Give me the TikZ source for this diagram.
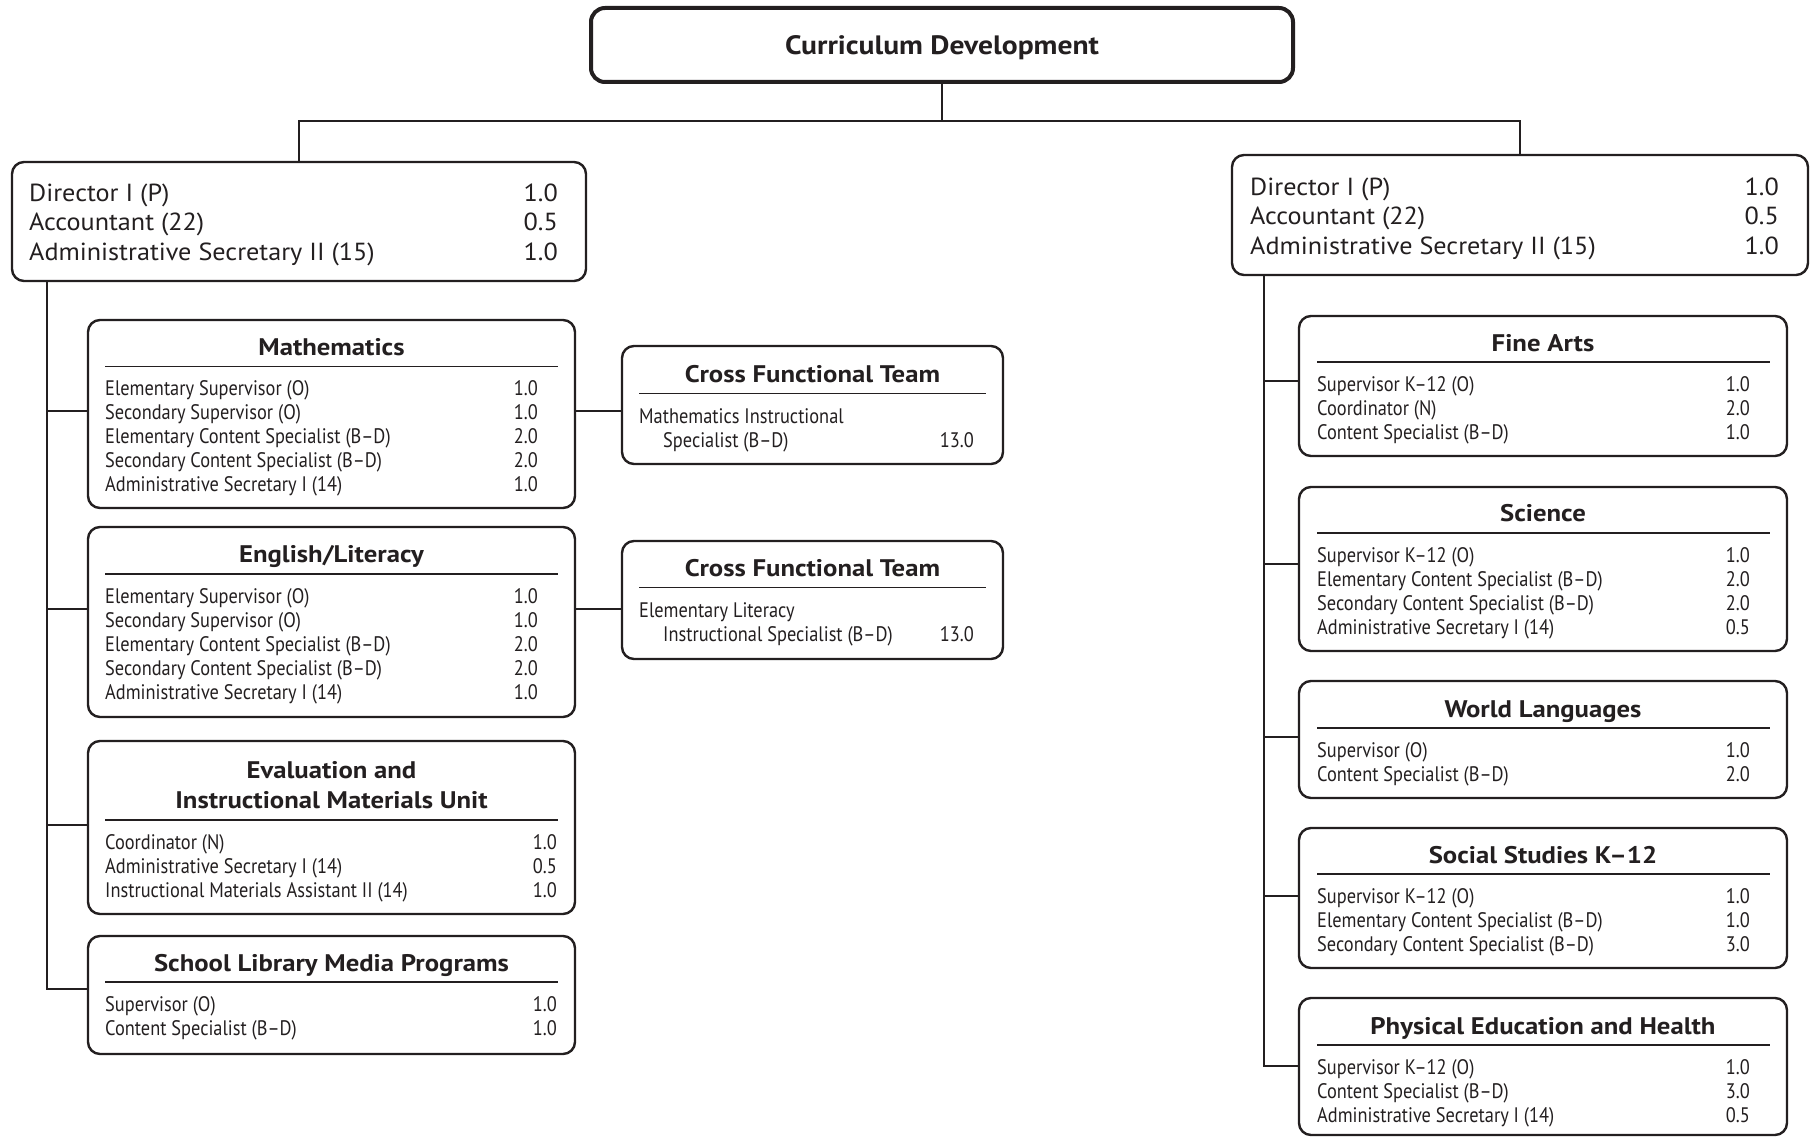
\documentclass[tikz,border=0pt]{standalone}
\usepackage{fontspec}
\setmainfont{PT Sans}
\newfontfamily\ptbase{PT Sans}
\newlength\mylen
% body text: condensed to match the reference widths
\settowidth\mylen{\ptbase\fontsize{21}{24}\selectfont Elementary Content Specialist (B–D)Mathematics InstructionalAdministrative Secretary I (14)}
\pgfmathsetmacro\bodyx{727/\mylen}
\edef\tmpdef{\noexpand\newfontfamily\noexpand\bodyfont[FakeStretch=\bodyx]{PT Sans}}\tmpdef
% director text
\settowidth\mylen{\ptbase\fontsize{24.7}{29}\selectfont Administrative Secretary II (15)Accountant (22)Director I (P)}
\pgfmathsetmacro\dirx{661/\mylen}
\edef\tmpdef{\noexpand\newfontfamily\noexpand\dirfont[FakeStretch=\dirx]{PT Sans}}\tmpdef
% headings
\settowidth\mylen{\ptbase\bfseries\fontsize{24}{28}\selectfont Cross Functional TeamPhysical Education and HealthSchool Library Media Programs}
\pgfmathsetmacro\headx{955/\mylen}
\edef\tmpdef{\noexpand\newfontfamily\noexpand\headfont[FakeStretch=\headx]{PT Sans}}\tmpdef
\settowidth\mylen{\headfont\bfseries\fontsize{24}{28}\selectfont Curriculum Development}
\pgfmathsetmacro\titlesize{24*314/\mylen}

\definecolor{ink}{RGB}{35,31,32}

\tikzset{
  ubox/.style={draw=ink, line width=2.4pt, rounded corners=12pt, fill=white, inner sep=0pt, outer sep=0pt, anchor=north west},
  topbox/.style={ubox, line width=4pt, rounded corners=14pt},
  conn/.style={draw=ink, line width=2.4pt},
  rulel/.style={draw=ink, line width=1.3pt},
  bodytxt/.style={font=\bodyfont\fontsize{21}{24}\selectfont, text=ink, inner sep=0pt, text height=14.7pt, text depth=0pt},
  dirtxt/.style={font=\dirfont\fontsize{24.7}{29}\selectfont, text=ink, inner sep=0pt, text height=17.3pt, text depth=0pt},
  headtxt/.style={font=\headfont\bfseries\fontsize{24}{28}\selectfont, text=ink, inner sep=0pt, text height=16.8pt, text depth=0pt},
  titletxt/.style={font=\headfont\bfseries\fontsize{\titlesize}{\titlesize}\selectfont, text=ink, text height=0.7*\titlesize pt, text depth=0pt},
}

% #1 name, #2 left x, #3 numbers right x, #4 first y, #5 list text/number
\newcommand\unitrows[5]{%
  \foreach \txt/\val [count=\i] in {#5} {
    \node[bodytxt, anchor=west] (#1-t\i) at (#2,{#4+24*(\i-1)}) {\txt};
    \node[bodytxt, anchor=east] (#1-n\i) at (#3,{#4+24*(\i-1)}) {\val};
  }}
\newcommand\dirrows[4]{%
  \foreach \txt/\val [count=\i] in {{Director I (P)}/1.0,{Accountant (22)}/0.5,{Administrative Secretary II (15)}/1.0} {
    \node[dirtxt, anchor=west] (#1-t\i) at (#2,{#4+29.3*(\i-1)}) {\txt};
    \node[dirtxt, anchor=east] (#1-n\i) at (#3,{#4+29.3*(\i-1)}) {\val};
  }}

\begin{document}
\begin{tikzpicture}[x=1pt, y=-1pt]
\useasboundingbox (0,0) rectangle (1810,1137);

% ---------- top ----------
\node[topbox, titletxt, minimum width=702pt, minimum height=74pt] (top) at (591,8) {Curriculum Development};

% ---------- directors ----------
\node[ubox, minimum width=574pt, minimum height=119pt] (dirL) at (12,162) {};
\dirrows{dirL}{29}{558}{193}
\node[ubox, minimum width=576pt, minimum height=120pt] (dirR) at (1232,155) {};
\dirrows{dirR}{1250}{1779}{187}

\coordinate (jT) at (top.south |- 0,121);
\draw[conn] (top.south) -- (jT);
\draw[conn] (dirL.north) |- (jT) -| (dirR.north);

% ---------- left column ----------
\node[ubox, minimum width=487pt, minimum height=188pt] (math) at (88,320) {};
\node[headtxt] (math-h) at (331.5,347) {Mathematics};
\draw[rulel] (105,366.5) -- (558,366.5);
\unitrows{math}{105}{538}{388.5}{{Elementary Supervisor (O)}/1.0,{Secondary Supervisor (O)}/1.0,{Elementary Content Specialist (B–D)}/2.0,{Secondary Content Specialist (B–D)}/2.0,{Administrative Secretary I (14)}/1.0}

\node[ubox, minimum width=487pt, minimum height=190pt] (eng) at (88,527) {};
\node[headtxt] (eng-h) at (331.5,554) {English/Literacy};
\draw[rulel] (105,574) -- (558,574);
\unitrows{eng}{105}{538}{596}{{Elementary Supervisor (O)}/1.0,{Secondary Supervisor (O)}/1.0,{Elementary Content Specialist (B–D)}/2.0,{Secondary Content Specialist (B–D)}/2.0,{Administrative Secretary I (14)}/1.0}

\node[ubox, minimum width=487pt, minimum height=173pt] (eval) at (88,741) {};
\node[headtxt] (eval-h1) at (331.5,770) {Evaluation and};
\node[headtxt] (eval-h2) at (331.5,800) {Instructional Materials Unit};
\draw[rulel] (105,820) -- (558,820);
\unitrows{eval}{105}{557}{842}{{Coordinator (N)}/1.0,{Administrative Secretary I (14)}/0.5,{Instructional Materials Assistant II (14)}/1.0}

\node[ubox, minimum width=487pt, minimum height=118pt] (slm) at (88,936) {};
\node[headtxt] (slm-h) at (331.5,963) {School Library Media Programs};
\draw[rulel] (105,982) -- (558,982);
\unitrows{slm}{105}{557}{1004}{{Supervisor (O)}/1.0,{Content Specialist (B–D)}/1.0}

% ---------- cross functional teams ----------
\node[ubox, minimum width=381pt, minimum height=118pt] (cft1) at (622,346) {};
\node[headtxt] (cft1-h) at (812.5,374.5) {Cross Functional Team};
\draw[rulel] (639,393.5) -- (986,393.5);
\node[bodytxt, anchor=west] (cft1-t1) at (639,416) {Mathematics Instructional};
\node[bodytxt, anchor=west] (cft1-t2) at (663,440) {Specialist (B–D)};
\node[bodytxt, anchor=east] (cft1-n2) at (974,440) {13.0};

\node[ubox, minimum width=381pt, minimum height=118pt] (cft2) at (622,541) {};
\node[headtxt] (cft2-h) at (812.5,568.5) {Cross Functional Team};
\draw[rulel] (639,587.5) -- (986,587.5);
\node[bodytxt, anchor=west] (cft2-t1) at (639,610) {Elementary Literacy};
\node[bodytxt, anchor=west] (cft2-t2) at (663,634) {Instructional Specialist (B–D)};
\node[bodytxt, anchor=east] (cft2-n2) at (974,634) {13.0};

% ---------- left spine ----------
\coordinate (jL1) at (47,411);
\coordinate (jL2) at (47,609);
\coordinate (jL3) at (47,825);
\coordinate (jL4) at (47,989);
\draw[conn] (dirL.south -| jL1) -- (jL4) -- (slm.west |- jL4);
\draw[conn] (jL1) -- (math.west |- jL1);
\draw[conn] (jL2) -- (eng.west |- jL2);
\draw[conn] (jL3) -- (eval.west |- jL3);
\draw[conn] (math.east |- jL1) -- (cft1.west |- jL1);
\draw[conn] (eng.east |- jL2) -- (cft2.west |- jL2);

% ---------- right column ----------
\node[ubox, minimum width=488pt, minimum height=140pt] (fine) at (1299,316) {};
\node[headtxt] (fine-h) at (1543,343) {Fine Arts};
\draw[rulel] (1317,362) -- (1770,362);
\unitrows{fine}{1317}{1750}{384.5}{{Supervisor K–12 (O)}/1.0,{Coordinator (N)}/2.0,{Content Specialist (B–D)}/1.0}

\node[ubox, minimum width=488pt, minimum height=164pt] (sci) at (1299,487) {};
\node[headtxt] (sci-h) at (1543,513.5) {Science};
\draw[rulel] (1317,533) -- (1770,533);
\unitrows{sci}{1317}{1750}{555}{{Supervisor K–12 (O)}/1.0,{Elementary Content Specialist (B–D)}/2.0,{Secondary Content Specialist (B–D)}/2.0,{Administrative Secretary I (14)}/0.5}

\node[ubox, minimum width=488pt, minimum height=117pt] (wl) at (1299,681) {};
\node[headtxt] (wl-h) at (1543,709) {World Languages};
\draw[rulel] (1317,728) -- (1770,728);
\unitrows{wl}{1317}{1750}{750}{{Supervisor (O)}/1.0,{Content Specialist (B–D)}/2.0}

\node[ubox, minimum width=488pt, minimum height=140pt] (ss) at (1299,828) {};
\node[headtxt] (ss-h) at (1543,855) {Social Studies K–12};
\draw[rulel] (1317,874) -- (1770,874);
\unitrows{ss}{1317}{1750}{896}{{Supervisor K–12 (O)}/1.0,{Elementary Content Specialist (B–D)}/1.0,{Secondary Content Specialist (B–D)}/3.0}

\node[ubox, minimum width=488pt, minimum height=137pt] (pe) at (1299,998) {};
\node[headtxt] (pe-h) at (1543,1026) {Physical Education and Health};
\draw[rulel] (1317,1045) -- (1770,1045);
\unitrows{pe}{1317}{1750}{1067}{{Supervisor K–12 (O)}/1.0,{Content Specialist (B–D)}/3.0,{Administrative Secretary I (14)}/0.5}

% ---------- right spine ----------
\coordinate (jR1) at (1264,381);
\coordinate (jR2) at (1264,564);
\coordinate (jR3) at (1264,737);
\coordinate (jR4) at (1264,896);
\coordinate (jR5) at (1264,1066);
\draw[conn] (dirR.south -| jR1) -- (jR5) -- (pe.west |- jR5);
\draw[conn] (jR1) -- (fine.west |- jR1);
\draw[conn] (jR2) -- (sci.west |- jR2);
\draw[conn] (jR3) -- (wl.west |- jR3);
\draw[conn] (jR4) -- (ss.west |- jR4);
\end{tikzpicture}
\end{document}
